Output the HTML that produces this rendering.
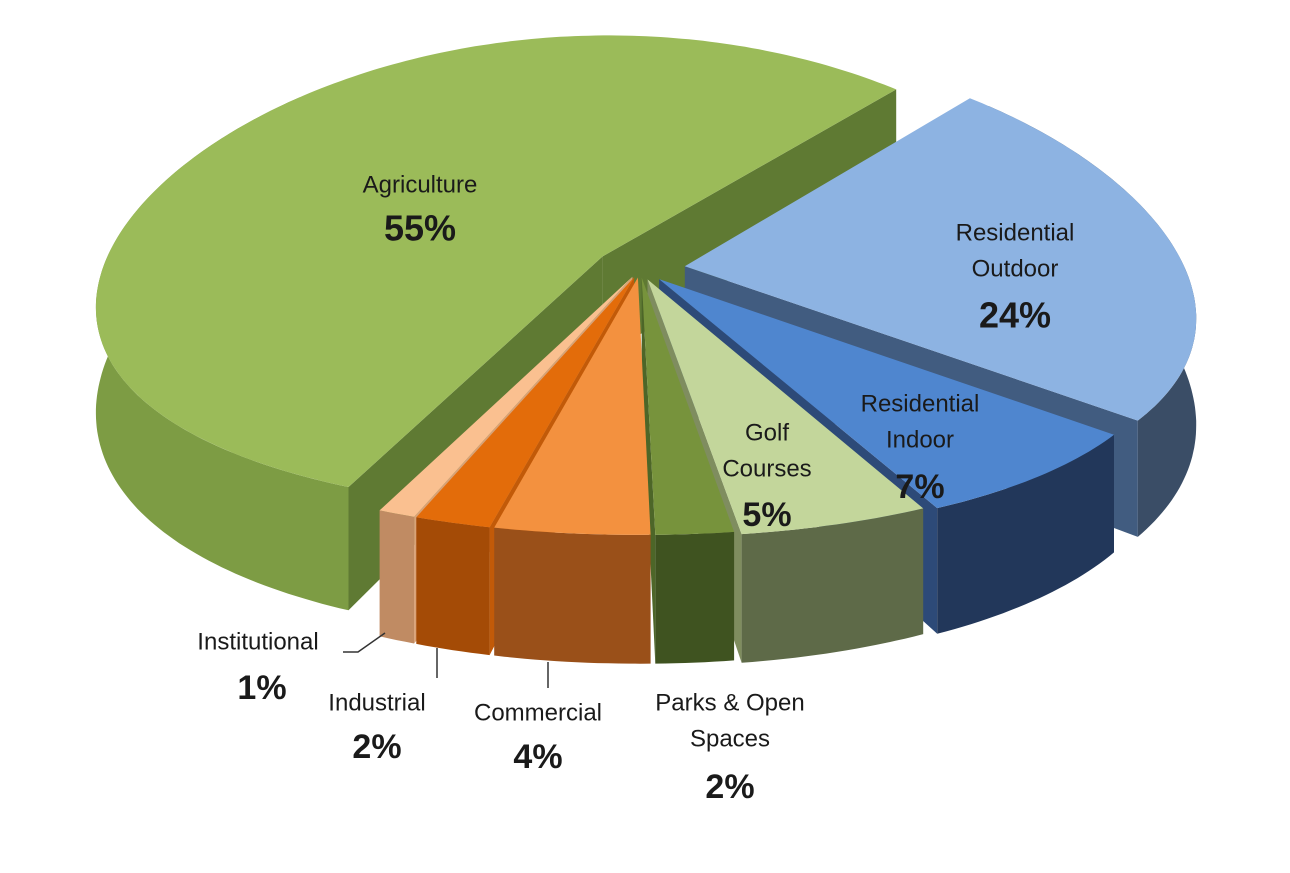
<!DOCTYPE html>
<html><head><meta charset="utf-8"><style>
html,body{margin:0;padding:0;background:#fff;}
svg{display:block;font-family:"Liberation Sans",sans-serif;}
</style></head><body>
<svg id="chart" width="1290" height="873" viewBox="0 0 1290 873">
<g id="sides"></g>
<g id="tops"></g>
<g id="labels" fill="#1a1a1a" text-anchor="middle"></g>
</svg>
<script>
const categories = ["Residential Outdoor","Residential Indoor","Golf Courses","Parks & Open Spaces","Commercial","Industrial","Institutional","Agriculture"];
const values = [24,7,5,2,4,2,1,55];
const labelLines = [["Residential","Outdoor"],["Residential","Indoor"],["Golf","Courses"],["Parks & Open","Spaces"],["Commercial"],["Industrial"],["Institutional"],["Agriculture"]];
const topColors = ["#8db3e2","#4f86cf","#c3d69b","#77933c","#f3913f","#e36c0a","#fac090","#9bbb59"];
const sideColors = ["#3a4d66","#22375a","#5e6a48","#3f5320","#9a5019","#a44b06","#c08b63","#7d9c44"];
const faceColors = ["#415c80","#2d4a78","#7f8d5f","#4d6628","#b86424","#c25a08","#d9a277","#5f7a33"];
const explode = [0.09,0.06,0.05,0.04,0.04,0.04,0.04,0.09];
const labelPos = [[1015,233,24,1015,315],[920,404,24,920,487],[767,433,24,767,515],[730,703,24,730,787],[538,713,24,538,757],[377,703,24,377,747],[258,642,24,262,688],[420,185,24,420,228]];

const cx=640, cy=268, rx=500, ry=238, depth=102, startAngle=42, kx=0.2, ky=0.07;
const NS="http://www.w3.org/2000/svg";
const rad=d=>d*Math.PI/180;
function pt(a,r,ex,mid,z){
  const X=ex*Math.sin(rad(mid))+r*Math.sin(rad(a));
  const V=ex*Math.cos(rad(mid))+r*Math.cos(rad(a));
  const f=1/(1+kx*V), g=1/(1+ky*V);
  return [cx+rx*X*f, cy-ry*V*g+z*f];
}
function poly(pts,fill,parent,name){
  const p=document.createElementNS(NS,"polygon");
  p.setAttribute("points",pts.map(q=>q[0].toFixed(1)+","+q[1].toFixed(1)).join(" "));
  p.setAttribute("fill",fill);
  
  
  parent.appendChild(p);return p;
}
const total=values.reduce((s,v)=>s+v,0);
let a=startAngle;
const faces=[], tops=[];
values.forEach((v,i)=>{
  const a0=a, a1=a+v/total*360; a=a1;
  const mid=(a0+a1)/2, ex=explode[i];
  const arc=(s,e,z)=>{const r=[];const n=Math.max(2,Math.ceil(Math.abs(e-s)));for(let k=0;k<=n;k++)r.push(pt(s+(e-s)*k/n,1,ex,mid,z));return r;};
  tops.push({pts:[pt(0,0,ex,mid,0)].concat(arc(a0,a1,0)),fill:topColors[i],name:"slice-top-"+i});
  const n0=((a0-90)%360+360)%360, n1=((a1+90)%360+360)%360;
  const radial=(ang)=>[pt(0,0,ex,mid,0),pt(ang,1,ex,mid,0),pt(ang,1,ex,mid,depth),pt(0,0,ex,mid,depth)];
  if(n0>90&&n0<270) faces.push({pts:radial(a0),fill:faceColors[i],name:"slice-face-"+i});
  if(n1>90&&n1<270) faces.push({pts:radial(a1),fill:faceColors[i],name:"slice-face-"+i});
  for(const off of [0,360]){
    const s=Math.max(a0,45+off), e=Math.min(a1,315+off);
    if(e>s){const t=arc(s,e,0), b=arc(s,e,depth).reverse();faces.push({pts:t.concat(b),fill:sideColors[i],name:"slice-wall-"+i,wall:true});}
  }
});
faces.forEach(f=>{f.key=Math.max(...f.pts.map(p=>p[1]))+(f.wall?5:0);});
faces.sort((x,y)=>x.key-y.key);
const gS=document.getElementById("sides"), gT=document.getElementById("tops"), gL=document.getElementById("labels");
faces.forEach(f=>poly(f.pts,f.fill,gS,f.name));
tops.forEach(f=>poly(f.pts,f.fill,gT,f.name));
function txt(x,y,s,size,bold){
  const t=document.createElementNS(NS,"text");
  t.setAttribute("x",x);t.setAttribute("y",y);t.setAttribute("font-size",size);
  if(bold)t.setAttribute("font-weight","bold");
  t.setAttribute("dominant-baseline","central");
  t.textContent=s;
  
  
  gL.appendChild(t);
}
categories.forEach((c,i)=>{
  const L=labelPos[i];
  labelLines[i].forEach((ln,k)=>txt(L[0],L[1]+k*36,ln,L[2],false));
  txt(L[3],L[4],values[i]+"%",i===7||i===0?36:34,true);
});
const leaders=[[[343,652],[358,652],[385,633]],[[437,648],[437,678]],[[548,662],[548,688]]];
leaders.forEach(l=>{
  const p=document.createElementNS(NS,"polyline");
  p.setAttribute("points",l.map(q=>q.join(",")).join(" "));
  p.setAttribute("fill","none");p.setAttribute("stroke","#333");p.setAttribute("stroke-width","1.5");
  
  
  gL.appendChild(p);
});
</script>
</body></html>
